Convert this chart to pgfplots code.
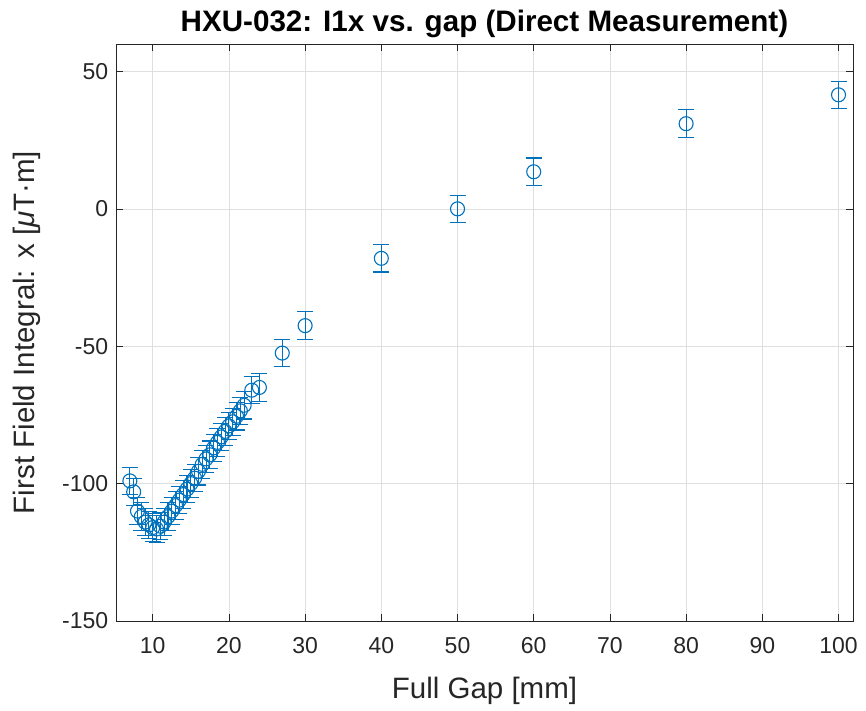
\documentclass[border=0pt]{standalone}
\usepackage{pgfplots}
\pgfplotsset{compat=1.18}
\usepackage{fontspec}
\setmainfont{Liberation Sans}
\definecolor{mblue}{RGB}{0,114,189}
\definecolor{axgray}{RGB}{38,38,38}
\definecolor{gridgray}{RGB}{223,223,223}
\begin{document}
\fontsize{23bp}{27bp}\selectfont
\begin{tikzpicture}
\useasboundingbox (-116bp,-90bp) rectangle (750bp,621bp);
\begin{axis}[
  at={(0,0)}, anchor=south west,
  scale only axis, width=737bp, height=577bp,
  xmin=5.18, xmax=101.9, ymin=-150, ymax=60,
  xtick={10,20,...,100},
  ytick={-150,-100,-50,0,50},
  yticklabels={-150,-100,-50,0,50},
  /pgf/number format/assume math mode=true,
  tick label style={font=\fontsize{23bp}{27bp}\selectfont, text=axgray},
  xticklabel style={yshift=-9bp},
  xlabel style={font=\fontsize{29.5bp}{34bp}\selectfont, text=axgray, yshift=-7bp},
  ylabel style={font=\fontsize{29.5bp}{34bp}\selectfont, text=axgray, yshift=6bp},
  title style={font=\fontsize{29.6bp}{34bp}\selectfont\bfseries, yshift=-8bp},
  title={HXU-032: I1x vs. gap (Direct Measurement)},
  xlabel={Full Gap [mm]},
  ylabel={First Field Integral: x [{\itshape μ}T·m]},
  grid=major,
  major grid style={gridgray, line width=0.6bp},
  axis line style={axgray, line width=0.6bp},
  tick style={axgray, line width=0.6bp},
  tick align=inside,
  major tick length=7bp,
  xtick pos=both, ytick pos=both,
]
\addplot[mblue, only marks, mark=o, mark size=7bp,
  mark options={mblue, line width=1.1bp, fill=none},
  line width=1.1bp,
  error bars/.cd, y dir=both, y explicit,
  error mark=|, error mark options={mblue, line width=1.1bp, mark size=8bp},
  error bar style={mblue, line width=1.1bp}]
table[x=x, y=y, y error=e] {
x y e
7 -99 5
7.5 -103 5
8 -110 5
8.5 -112 5
9 -114 5
9.5 -115 5
10 -116 5
10.5 -116.5 5
11 -115.5 5
11.5 -114 5
12 -112 5
12.5 -110 5
13 -108 5
13.5 -106 5
14 -104 5
14.5 -102 5
15 -100 5
15.5 -98 5
16 -95.5 5
16.5 -93 5
17 -91 5
17.5 -89.5 5
18 -87 5
18.5 -85 5
19 -83 5
19.5 -81 5
20 -79 5
20.5 -77.5 5
21 -75.5 5
21.5 -73.5 5
22 -71.5 5
23 -66 5
24 -65 5
27 -52.5 5
30 -42.5 5
40 -18 5
50 0 5
60 13.5 5
80 31 5
100 41.5 5
};
\end{axis}
\end{tikzpicture}
\end{document}
